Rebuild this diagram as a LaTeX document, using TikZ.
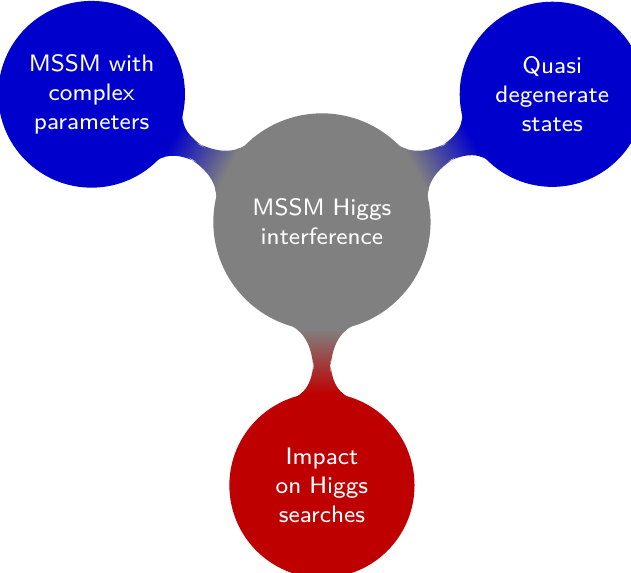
\documentclass[tikz,border=0pt]{standalone}
\usepackage{fontspec}
\newfontfamily\conceptfont{lmsans8-regular.otf}
\usetikzlibrary{mindmap}
\begin{document}
\begin{tikzpicture}[mindmap,
                    concept color=gray, text=white,
                    font=\conceptfont\fontsize{12.6}{15.4}\selectfont,
                    level 1/.append style={level distance=4.9cm},
                    level 1 concept/.append style={minimum size=3.22cm, text width=3cm,
                                                   font=\conceptfont\fontsize{12.6}{15.4}\selectfont}]
                    \useasboundingbox (-5.99,-6.53) rectangle (5.75,4.13);
                    \node[concept, minimum size=4cm, text width=3.5cm] (interference) {MSSM Higgs\\interference}
                        child[grow=151, concept color=blue!80!black] {node[concept] (complex) {MSSM with\\complex\\parameters}}
                        child[grow=29, concept color=blue!80!black] {node[concept] (degenerate) {Quasi\\degenerate\\states}}
                        child[grow=-90, concept color=red!75!black] {node[concept] (searches) {Impact\\on Higgs\\searches}}
                    ;
                \end{tikzpicture}
\end{document}
